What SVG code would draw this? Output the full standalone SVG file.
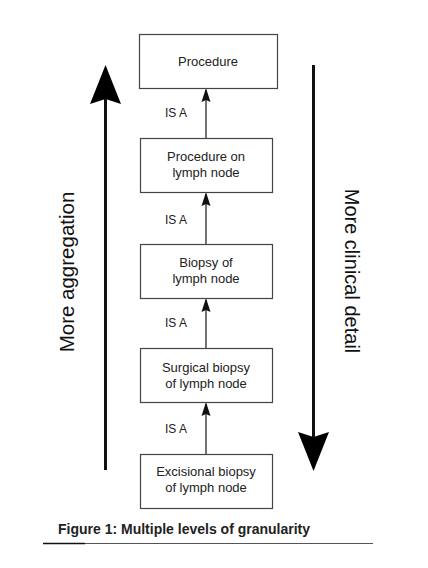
<svg xmlns="http://www.w3.org/2000/svg" width="428" height="568" viewBox="0 0 428 568">
<defs>
<style>
.box{fill:#fff;stroke:#444;stroke-width:1.2}
.lbl{font-family:"Liberation Sans",Arial,sans-serif;font-size:13px;fill:#222;text-anchor:middle}
.isa{font-family:"Liberation Sans",Arial,sans-serif;font-size:12px;fill:#222}
.side{font-family:"Liberation Sans",Arial,sans-serif;font-size:20.5px;fill:#111;text-anchor:middle}
.cap{font-family:"Liberation Sans",Arial,sans-serif;font-size:14px;font-weight:bold;fill:#222}
.con{stroke:#444;stroke-width:1.5;fill:none}
</style>
</defs>
<rect width="428" height="568" fill="#fff"/>
<g id="connectors">
<line class="con" x1="206" y1="138" x2="206" y2="90"/>
<path d="M206 88 L210.5 102 L206 100 L201.5 102 Z" fill="#111"/>
<line class="con" x1="206" y1="244" x2="206" y2="194"/>
<path d="M206 192 L210.5 206 L206 204 L201.5 206 Z" fill="#111"/>
<line class="con" x1="206" y1="348" x2="206" y2="300"/>
<path d="M206 298 L210.5 312 L206 310 L201.5 312 Z" fill="#111"/>
<line class="con" x1="206" y1="454" x2="206" y2="404"/>
<path d="M206 402 L210.5 416 L206 414 L201.5 416 Z" fill="#111"/>
<text class="isa" x="165" y="117">IS A</text>
<text class="isa" x="165" y="224">IS A</text>
<text class="isa" x="165" y="327">IS A</text>
<text class="isa" x="165" y="433">IS A</text>
</g>
<g id="node1">
<rect class="box" x="139.5" y="34.5" width="138" height="54"/>
<text class="lbl" x="208" y="66">Procedure</text>
</g>
<g id="node2">
<rect class="box" x="140.5" y="138.5" width="132" height="54"/>
<text class="lbl" x="206" y="161">Procedure on</text>
<text class="lbl" x="206" y="177">lymph node</text>
</g>
<g id="node3">
<rect class="box" x="140.5" y="244.5" width="132" height="54"/>
<text class="lbl" x="206" y="267">Biopsy of</text>
<text class="lbl" x="206" y="283">lymph node</text>
</g>
<g id="node4">
<rect class="box" x="140.5" y="348.5" width="132" height="54"/>
<text class="lbl" x="206" y="372">Surgical biopsy</text>
<text class="lbl" x="206" y="388">of lymph node</text>
</g>
<g id="node5">
<rect class="box" x="140.5" y="454.5" width="132" height="54"/>
<text class="lbl" x="206" y="476">Excisional biopsy</text>
<text class="lbl" x="206" y="492">of lymph node</text>
</g>
<g id="aggregation">
<line x1="105.5" y1="470" x2="105.5" y2="98" stroke="#111" stroke-width="3"/>
<path d="M105.5 65 L121 104 L105.5 99 L90 104 Z" fill="#000"/>
<text class="side" transform="translate(74 272) rotate(-90)">More aggregation</text>
</g>
<g id="detail">
<line x1="313.5" y1="65" x2="313.5" y2="440" stroke="#111" stroke-width="3"/>
<path d="M313.5 471 L329 432 L313.5 437 L298 432 Z" fill="#000"/>
<text class="side" style="font-size:20px" transform="translate(345 271) rotate(90)">More clinical detail</text>
</g>
<g id="caption">
<text class="cap" x="58" y="534">Figure 1: Multiple levels of granularity</text>
<line x1="43" y1="543.5" x2="373" y2="543.5" stroke="#555" stroke-width="1"/>
<line x1="43" y1="543.5" x2="85" y2="543.5" stroke="#111" stroke-width="1.3"/>
</g>
</svg>
